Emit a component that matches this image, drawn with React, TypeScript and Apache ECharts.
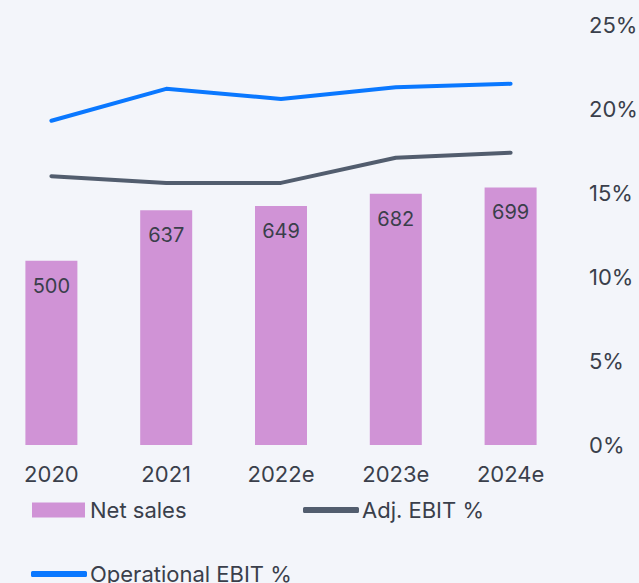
import React, { useEffect, useRef } from "react";
import * as echarts from "echarts";

const categories = ["2020", "2021", "2022e", "2023e", "2024e"];
const netSales = [500, 637, 649, 682, 699];
const adjEbit = [16.0, 15.6, 15.6, 17.1, 17.4];
const operationalEbit = [19.3, 21.2, 20.6, 21.3, 21.5];
const pctTicks = [0, 5, 10, 15, 20, 25];

const FONT = "Inter";
const TEXT = "#3a3f4b";

export default function App() {
  const ref = useRef<HTMLDivElement>(null);
  useEffect(() => {
    document.body.style.margin = "0";
    const chart = echarts.init(ref.current!, undefined, { renderer: "svg" });
    chart.setOption({
      animation: false,
      backgroundColor: "#f3f5fa",
      textStyle: { fontFamily: FONT, color: TEXT },
      grid: {
        left: -6,
        right: 71,
        top: 25,
        bottom: 138,
        containLabel: false,
        outerBoundsMode: "none",
      },
      legend: [
        {
          data: ["Net sales"],
          left: 32,
          top: 499,
          padding: 0,
          itemWidth: 53,
          itemHeight: 15,
          itemGap: 0,
          icon: "rect",
          textStyle: { fontFamily: FONT, fontSize: 22, color: TEXT, padding: [0, 0, 0, 0] },
        },
        {
          data: ["Adj. EBIT %"],
          left: 303,
          top: 499,
          padding: 0,
          itemWidth: 56,
          itemHeight: 6,
          icon: "roundRect",
          textStyle: { fontFamily: FONT, fontSize: 22, color: TEXT, padding: [0, 0, 0, -2] },
        },
        {
          data: ["Operational EBIT %"],
          left: 31,
          top: 563,
          padding: 0,
          itemWidth: 56,
          itemHeight: 6,
          icon: "roundRect",
          textStyle: { fontFamily: FONT, fontSize: 22, color: TEXT, padding: [0, 0, 0, -2] },
        },
      ],
      xAxis: {
        type: "category",
        data: categories,
        axisLine: { show: false },
        axisTick: { show: false },
        axisLabel: { fontFamily: FONT, fontSize: 22, color: TEXT, margin: 18 },
      },
      yAxis: [
        {
          type: "value",
          min: 0,
          max: 1140,
          show: false,
          splitLine: { show: false },
        },
        {
          type: "value",
          position: "right",
          min: pctTicks[0],
          max: pctTicks[pctTicks.length - 1],
          interval: 5,
          axisLine: { show: false },
          axisTick: { show: false },
          splitLine: { show: false },
          axisLabel: {
            formatter: "{value}%",
            fontFamily: FONT,
            fontSize: 22,
            color: TEXT,
            margin: 21,
          },
        },
      ],
      series: [
        {
          name: "Net sales",
          type: "bar",
          data: netSales,
          barWidth: 52,
          itemStyle: { color: "#d093d6" },
          label: {
            show: true,
            position: "insideTop",
            distance: 15,
            fontFamily: FONT,
            fontSize: 20,
            color: TEXT,
          },
        },
        {
          name: "Adj. EBIT %",
          type: "line",
          yAxisIndex: 1,
          data: adjEbit,
          symbol: "none",
          lineStyle: { color: "#525d6e", width: 4, cap: "round", join: "round" },
          itemStyle: { color: "#525d6e" },
        },
        {
          name: "Operational EBIT %",
          type: "line",
          yAxisIndex: 1,
          data: operationalEbit,
          symbol: "none",
          lineStyle: { color: "#0a78ff", width: 4, cap: "round", join: "round" },
          itemStyle: { color: "#0a78ff" },
        },
      ],
    });
    return () => chart.dispose();
  }, []);
  return <div ref={ref} style={{ width: 639, height: 583 }} />;
}
